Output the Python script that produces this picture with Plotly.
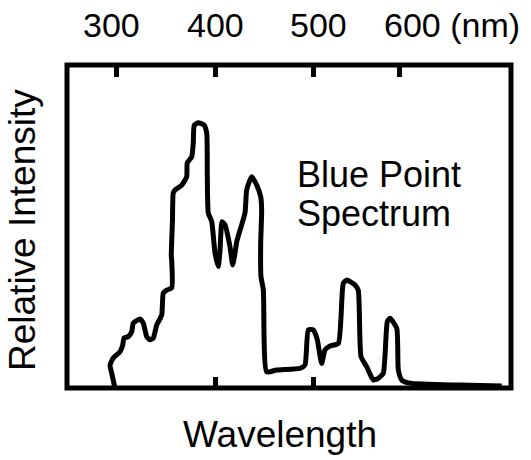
import plotly.graph_objects as go

# Spectrum trace (wavelength in nm on the chart's linear scale, relative intensity 0-100)
wavelength = [298.6, 295.3, 293.6, 296.9, 303.7, 306.5, 307.8, 312.1, 315.6, 317.2,
              324.0, 327.3, 330.8, 334.1, 337.5, 340.9, 346.0, 347.6, 351.0, 356.1,
              356.1, 355.7, 356.9, 357.7, 359.5, 366.3, 371.3, 371.9, 376.4, 378.0,
              379.0, 383.1, 388.9, 391.6, 392.2, 393.2, 396.7, 400.0, 403.3, 405.1,
              407.1, 410.1, 415.2, 417.9, 420.3, 422.0, 430.4, 432.1, 437.2, 442.3,
              446.3, 447.3, 446.3, 446.6, 449.0, 452.4, 462.5, 486.1, 491.2, 494.6,
              499.6, 503.7, 508.1, 511.5, 516.6, 525.0, 530.0, 533.5, 541.9, 545.2,
              548.0, 553.7, 560.4, 565.5, 570.6, 574.6, 577.4, 584.2, 585.8, 589.2,
              597.6, 648.3, 690.6]
intensity = [0.0, 4.6, 7.1, 9.3, 11.2, 13.3, 15.5, 15.9, 17.4, 20.1,
             21.4, 20.1, 15.9, 14.9, 15.5, 19.5, 22.6, 29.4, 30.3, 31.0,
             39.6, 40.9, 52.0, 60.4, 61.3, 62.8, 65.4, 69.7, 71.6, 75.9,
             81.4, 82.1, 81.4, 78.9, 65.4, 54.2, 51.5, 41.8, 37.6, 42.7,
             51.5, 50.5, 43.7, 38.1, 41.8, 45.3, 54.2, 61.3, 65.4, 62.8,
             59.2, 55.1, 44.9, 34.5, 30.3, 5.0, 5.6, 6.1, 7.1, 18.0,
             18.0, 14.9, 7.6, 11.8, 13.0, 13.8, 32.4, 33.4, 31.9, 30.3,
             9.7, 6.6, 2.5, 3.0, 4.6, 20.5, 21.6, 18.5, 5.6, 2.5,
             1.5, 0.9, 0.6]

top_tick_vals = [300, 400, 500, 587]
top_tick_labels = ["300", "400", "500", "600 (nm)"]
bottom_tick_vals = [400, 500]

x_title = "Wavelength"
y_title = "Relative Intensity"
label_lines = ["Blue Point", "Spectrum"]

FONT = "Liberation Sans, Arial, Helvetica, sans-serif"

fig = go.Figure()
fig.add_trace(go.Scatter(
    x=wavelength, y=intensity, mode="lines",
    line=dict(color="black", width=5, shape="spline", smoothing=0.5),
    showlegend=False, hoverinfo="skip",
))
# invisible trace to activate the top axis
fig.add_trace(go.Scatter(x=[300], y=[0], xaxis="x2", mode="markers",
                         marker=dict(opacity=0), showlegend=False, hoverinfo="skip"))

fig.update_layout(
    width=531, height=460,
    margin=dict(l=67, r=20, t=65, b=72),
    paper_bgcolor="white", plot_bgcolor="white",
    xaxis=dict(range=[250, 700], showgrid=False, zeroline=False, showline=False,
               ticks="inside", ticklen=11, tickwidth=5, tickcolor="black",
               tickvals=bottom_tick_vals, showticklabels=False),
    xaxis2=dict(range=[250, 700], overlaying="x", side="top", showgrid=False,
                zeroline=False, showline=False, ticks="inside", ticklen=12,
                tickwidth=5, tickcolor="black", tickvals=top_tick_vals,
                showticklabels=False),
    yaxis=dict(range=[0, 100], showgrid=False, zeroline=False, showline=False,
               showticklabels=False, ticks=""),
    shapes=[dict(type="rect", xref="paper", yref="paper", x0=0, x1=1, y0=0, y1=1,
                 line=dict(color="black", width=5), fillcolor="rgba(0,0,0,0)")],
)

ann = []
# top tick labels (text positions in pixels)
top_label_px = [111.3, 215.5, 318.6, 381.7]
for i, (lab, px) in enumerate(zip(top_tick_labels, top_label_px)):
    last = i == len(top_tick_labels) - 1
    ann.append(dict(text=lab, xref="paper", yref="paper",
                    x=(px - 67) / 444, y=(460 - 25 - 72) / 323,
                    xanchor="left" if last else "center", yanchor="middle",
                    showarrow=False, font=dict(family=FONT, size=34, color="black")))
ann.append(dict(text=x_title, xref="paper", yref="paper",
                x=(279.5 - 67) / 444, y=(460 - 435 - 72) / 323,
                xanchor="center", yanchor="middle", showarrow=False,
                font=dict(family=FONT, size=37, color="black")))
ann.append(dict(text=y_title, xref="paper", yref="paper", textangle=-90,
                x=(22 - 67) / 444, y=(460 - 230 - 72) / 323,
                xanchor="center", yanchor="middle", showarrow=False,
                font=dict(family=FONT, size=37, color="black")))
for j, line in enumerate(label_lines):
    ann.append(dict(text=line, xref="paper", yref="paper",
                    x=(295 - 67) / 444, y=(460 - (174 + 39 * j) - 72) / 323,
                    xanchor="left", yanchor="middle", showarrow=False,
                    font=dict(family=FONT, size=36, color="black")))
fig.update_layout(annotations=ann)

fig.write_html("out.html", config={"displayModeBar": False},
               post_script="document.body.style.margin='0';document.body.style.padding='0';")
